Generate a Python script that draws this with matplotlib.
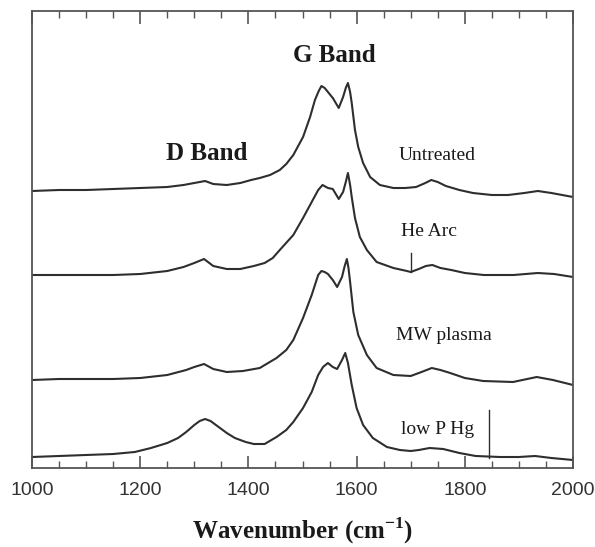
import matplotlib
matplotlib.use("Agg")
import matplotlib.pyplot as plt
from matplotlib.ticker import MultipleLocator

# ---- data (Raman spectra, arbitrary intensity units) ----
wn_untreated = [1000, 1050, 1100, 1150, 1200, 1250, 1280, 1300, 1320, 1335, 1360, 1385,
                1405, 1421, 1440, 1458, 1470, 1483, 1501, 1514, 1523, 1530, 1535, 1541,
                1547, 1556, 1567, 1575, 1580, 1584, 1588, 1591, 1597, 1603, 1612, 1625,
                1643, 1668, 1690, 1710, 1727, 1738, 1750, 1765, 1790, 1815, 1850, 1880,
                1910, 1935, 1960, 1980, 2000]
int_untreated = [7, 8, 8, 9, 10, 11, 13, 15, 17, 14, 13, 15,
                 18, 20, 23, 28, 34, 43, 61, 81, 98, 107, 112, 110,
                 106, 100, 90, 101, 110, 115, 106, 95, 68, 51, 35, 21,
                 13, 10, 10, 11, 15, 18, 16, 12, 8, 5, 3, 3,
                 5, 7, 5, 3, 1]

wn_hearc = [1000, 1050, 1100, 1150, 1200, 1250, 1280, 1300, 1318, 1335, 1360, 1385,
            1410, 1430, 1445, 1458, 1483, 1501, 1517, 1529, 1537, 1547, 1556, 1567,
            1575, 1580, 1584, 1588, 1591, 1597, 1606, 1619, 1637, 1668, 1693, 1700,
            1715, 1728, 1740, 1755, 1775, 1800, 1835, 1890, 1935, 1965, 2000]
int_hearc = [3, 3, 3, 3, 4, 7, 11, 15, 19, 12, 9, 9,
             12, 15, 20, 28, 43, 60, 76, 88, 93, 90, 89, 79,
             86, 96, 105, 93, 81, 60, 41, 28, 16, 10, 7, 6,
             9, 12, 13, 10, 8, 5, 3, 3, 5, 4, 1]

wn_mw = [1000, 1050, 1100, 1150, 1200, 1250, 1285, 1300, 1318, 1335, 1360, 1390,
         1421, 1452, 1470, 1483, 1501, 1517, 1529, 1535, 1541, 1547, 1556, 1564,
         1573, 1578, 1582, 1585, 1588, 1594, 1603, 1619, 1637, 1668, 1700, 1720,
         1739, 1755, 1773, 1800, 1834, 1889, 1933, 1963, 2000]
int_mw = [6, 7, 7, 7, 8, 11, 16, 19, 22, 17, 14, 15,
          18, 28, 36, 46, 68, 91, 111, 115, 114, 112, 106, 99,
          109, 120, 127, 118, 104, 74, 51, 31, 18, 11, 10, 14,
          18, 16, 13, 8, 5, 4, 9, 6, 1]

wn_hg = [1000, 1050, 1100, 1150, 1190, 1220, 1250, 1270, 1285, 1300, 1310, 1320,
         1330, 1345, 1360, 1375, 1395, 1410, 1430, 1452, 1470, 1483, 1501, 1517,
         1529, 1538, 1547, 1556, 1564, 1573, 1579, 1584, 1591, 1600, 1612, 1630,
         1656, 1680, 1700, 1715, 1735, 1760, 1790, 1820, 1865, 1900, 1930, 1960, 2000]
int_hg = [3, 4, 5, 6, 8, 12, 17, 22, 28, 35, 39, 41,
          39, 33, 27, 22, 18, 16, 16, 23, 30, 38, 52, 68,
          85, 93, 97, 93, 91, 100, 107, 97, 75, 52, 35, 22,
          13, 10, 9, 10, 12, 11, 7, 4, 3, 3, 4, 2, 0]

labels = ["Untreated", "He Arc", "MW plasma", "low P Hg"]
offsets = [270, 190, 82, 8]

# marker lines (wavenumber, bottom, top) relative to their trace
marker_hearc = (1700, 6, 25)
marker_hg = (1845, 2, 50)

# ---- figure ----
fig = plt.figure(figsize=(5.95, 5.47), dpi=100)
ax = fig.add_axes([32/595, 79/547, 541/595, 457/547])

series = [(wn_untreated, int_untreated), (wn_hearc, int_hearc),
          (wn_mw, int_mw), (wn_hg, int_hg)]
for (w, v), off in zip(series, offsets):
    ax.plot(w, [x + off for x in v], color="#2e2e2e", lw=1.5,
            solid_joinstyle="round", solid_capstyle="round")

for (x, y0, y1), off in [(marker_hearc, offsets[1]), (marker_hg, offsets[3])]:
    ax.plot([x, x], [y0 + off, y1 + off], color="#2e2e2e", lw=1.0)

ax.set_xlim(1000, 2000)
ax.set_ylim(0, 457)

serif = "Liberation Serif"
ax.text(1558, 413, "G Band", family=serif, weight="bold", fontsize=18,
        ha="center", va="center", color="#1a1a1a")
ax.text(1323, 315, "D Band", family=serif, weight="bold", fontsize=18,
        ha="center", va="center", color="#1a1a1a")
lab_pos = [(1749, 312), (1734, 236), (1762, 132), (1749, 38)]
for lab, (x, y) in zip(labels, lab_pos):
    ax.text(x, y, lab, family=serif, fontsize=14, ha="center", va="center",
            color="#1a1a1a")

ax.xaxis.set_major_locator(MultipleLocator(200))
ax.xaxis.set_minor_locator(MultipleLocator(50))
ax.tick_params(axis="x", which="both", direction="in", top=True, bottom=True,
               colors="#555555", labelcolor="#333333")
ax.tick_params(axis="x", which="major", length=9, width=1.2, labelsize=14, pad=10)
ax.tick_params(axis="x", which="minor", length=5, width=1.0)
for lbl in ax.get_xticklabels():
    lbl.set_family("Liberation Sans")
ax.set_yticks([])
for s in ax.spines.values():
    s.set_color("#555555")
    s.set_linewidth(1.3)

ax.set_xlabel("Wavenumber (cm$^{\\mathregular{-1}}$)", family=serif, weight="bold",
              fontsize=18, labelpad=12, color="#1a1a1a")

fig.savefig("out.png", dpi=100)
